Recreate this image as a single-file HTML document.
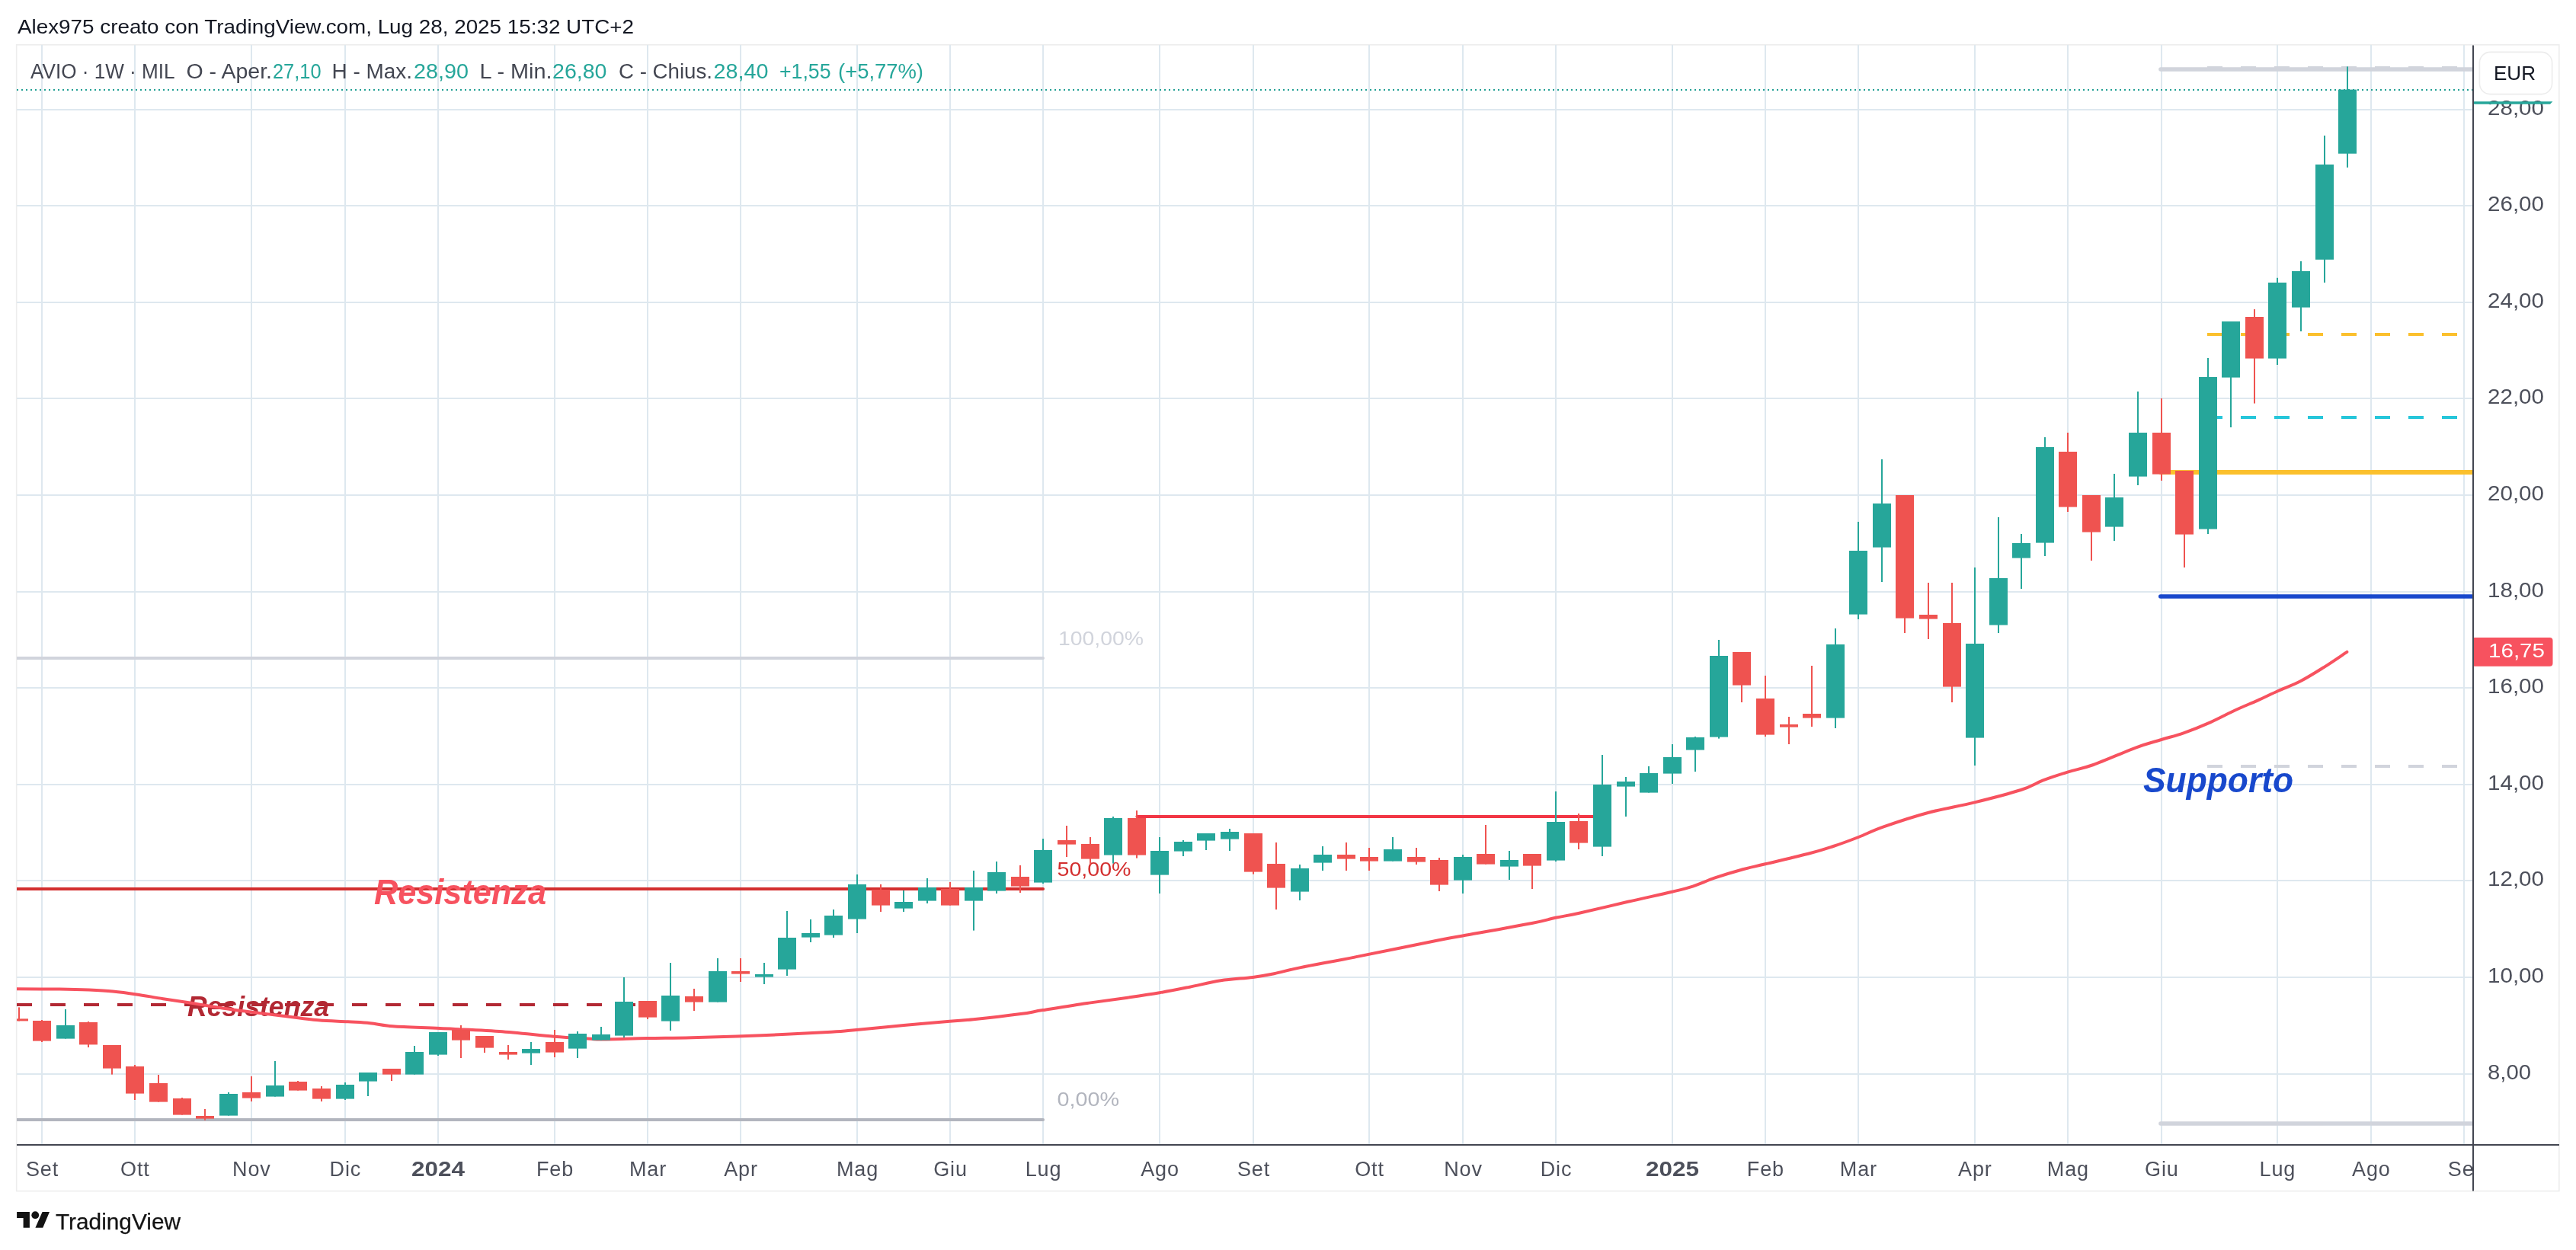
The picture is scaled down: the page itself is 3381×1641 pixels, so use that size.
<!DOCTYPE html><html><head><meta charset="utf-8"><style>html,body{margin:0;padding:0;background:#fff;width:3381px;height:1641px;overflow:hidden}svg{display:block;will-change:transform}text{font-family:"Liberation Sans",sans-serif}</style></head><body>
<svg width="3381" height="1641" viewBox="0 0 3381 1641">
<defs><clipPath id="pane"><rect x="22" y="59" width="3224" height="1443"/></clipPath><clipPath id="taxis"><rect x="22" y="1504" width="3223" height="60"/></clipPath></defs>
<rect width="3381" height="1641" fill="#ffffff"/>
<text x="23" y="43.8" font-size="26" fill="#131722" textLength="809" lengthAdjust="spacingAndGlyphs">Alex975 creato con TradingView.com, Lug 28, 2025 15:32 UTC+2</text>
<rect x="21.7" y="58.8" width="3337.1" height="1504.8" fill="none" stroke="#ededed" stroke-width="1.6"/>
<g clip-path="url(#pane)">
<rect x="54.0" y="59" width="2" height="1444" fill="#dee8ef"/>
<rect x="176.0" y="59" width="2" height="1444" fill="#dee8ef"/>
<rect x="329.0" y="59" width="2" height="1444" fill="#dee8ef"/>
<rect x="452.0" y="59" width="2" height="1444" fill="#dee8ef"/>
<rect x="574.0" y="59" width="2" height="1444" fill="#dee8ef"/>
<rect x="727.0" y="59" width="2" height="1444" fill="#dee8ef"/>
<rect x="849.0" y="59" width="2" height="1444" fill="#dee8ef"/>
<rect x="971.0" y="59" width="2" height="1444" fill="#dee8ef"/>
<rect x="1124.0" y="59" width="2" height="1444" fill="#dee8ef"/>
<rect x="1246.0" y="59" width="2" height="1444" fill="#dee8ef"/>
<rect x="1368.0" y="59" width="2" height="1444" fill="#dee8ef"/>
<rect x="1521.0" y="59" width="2" height="1444" fill="#dee8ef"/>
<rect x="1644.0" y="59" width="2" height="1444" fill="#dee8ef"/>
<rect x="1796.0" y="59" width="2" height="1444" fill="#dee8ef"/>
<rect x="1919.0" y="59" width="2" height="1444" fill="#dee8ef"/>
<rect x="2041.0" y="59" width="2" height="1444" fill="#dee8ef"/>
<rect x="2194.0" y="59" width="2" height="1444" fill="#dee8ef"/>
<rect x="2316.0" y="59" width="2" height="1444" fill="#dee8ef"/>
<rect x="2438.0" y="59" width="2" height="1444" fill="#dee8ef"/>
<rect x="2591.0" y="59" width="2" height="1444" fill="#dee8ef"/>
<rect x="2713.0" y="59" width="2" height="1444" fill="#dee8ef"/>
<rect x="2836.0" y="59" width="2" height="1444" fill="#dee8ef"/>
<rect x="2988.0" y="59" width="2" height="1444" fill="#dee8ef"/>
<rect x="3111.0" y="59" width="2" height="1444" fill="#dee8ef"/>
<rect x="3233.0" y="59" width="2" height="1444" fill="#dee8ef"/>
<rect x="22" y="1409" width="3224" height="2" fill="#dee8ef"/>
<rect x="22" y="1282" width="3224" height="2" fill="#dee8ef"/>
<rect x="22" y="1155" width="3224" height="2" fill="#dee8ef"/>
<rect x="22" y="1029" width="3224" height="2" fill="#dee8ef"/>
<rect x="22" y="902" width="3224" height="2" fill="#dee8ef"/>
<rect x="22" y="776" width="3224" height="2" fill="#dee8ef"/>
<rect x="22" y="649" width="3224" height="2" fill="#dee8ef"/>
<rect x="22" y="522" width="3224" height="2" fill="#dee8ef"/>
<rect x="22" y="396" width="3224" height="2" fill="#dee8ef"/>
<rect x="22" y="269" width="3224" height="2" fill="#dee8ef"/>
<rect x="22" y="143" width="3224" height="2" fill="#dee8ef"/>
<line x1="10.0" y1="864.0" x2="1369.0" y2="864.0" stroke="#d1d4dc" stroke-width="4.0" stroke-linecap="round"/>
<line x1="10.0" y1="1167.0" x2="1369.0" y2="1167.0" stroke="#d32f2f" stroke-width="4.0" stroke-linecap="round"/>
<line x1="10.0" y1="1470.0" x2="1369.0" y2="1470.0" stroke="#b2b5be" stroke-width="4.0" stroke-linecap="round"/>
<line x1="22.0" y1="1319.0" x2="834.0" y2="1319.0" stroke="#b22833" stroke-width="4.0" stroke-linecap="butt" stroke-dasharray="20 24"/>
<line x1="1492.4" y1="1072.0" x2="2092.0" y2="1072.0" stroke="#f23645" stroke-width="4.0" stroke-linecap="round"/>
<line x1="2836.0" y1="91.0" x2="3260.0" y2="91.0" stroke="#d1d4dc" stroke-width="5.6" stroke-linecap="round"/>
<line x1="2897.0" y1="89.0" x2="3246.0" y2="89.0" stroke="#d1d4dc" stroke-width="4.0" stroke-linecap="butt" stroke-dasharray="20 24"/>
<line x1="2897.0" y1="439.0" x2="3246.0" y2="439.0" stroke="#fbc02d" stroke-width="4.0" stroke-linecap="butt" stroke-dasharray="20 24"/>
<line x1="2897.0" y1="548.0" x2="3246.0" y2="548.0" stroke="#26c6da" stroke-width="4.0" stroke-linecap="butt" stroke-dasharray="20 24"/>
<line x1="2836.0" y1="620.0" x2="3260.0" y2="620.0" stroke="#fbc02d" stroke-width="6.0" stroke-linecap="round"/>
<line x1="2835.8" y1="783.0" x2="3260.0" y2="783.0" stroke="#1848cc" stroke-width="5.6" stroke-linecap="round"/>
<line x1="2897.0" y1="1006.0" x2="3246.0" y2="1006.0" stroke="#d1d4dc" stroke-width="4.0" stroke-linecap="butt" stroke-dasharray="20 24"/>
<line x1="2836.0" y1="1475.0" x2="3260.0" y2="1475.0" stroke="#d1d4dc" stroke-width="5.6" stroke-linecap="round"/>
<line x1="22" y1="118" x2="3246" y2="118" stroke="#22a094" stroke-width="2" stroke-dasharray="2 4"/>
<text x="491" y="1186.7" font-size="46" font-weight="bold" font-style="italic" fill="#f7525f" textLength="226" lengthAdjust="spacingAndGlyphs">Resistenza</text>
<text x="246" y="1334" font-size="36.5" font-weight="bold" font-style="italic" fill="#b22833" textLength="186" lengthAdjust="spacingAndGlyphs">Resistenza</text>
<text x="2813" y="1039.8" font-size="46" font-weight="bold" font-style="italic" fill="#1848cc" textLength="197" lengthAdjust="spacingAndGlyphs">Supporto</text>
<text x="1389" y="847" font-size="26" fill="#d1d4dc" textLength="112" lengthAdjust="spacingAndGlyphs">100,00%</text>
<text x="1387.5" y="1150" font-size="26" fill="#d32f2f" textLength="97" lengthAdjust="spacingAndGlyphs">50,00%</text>
<text x="1387.5" y="1452.3" font-size="26" fill="#b2b5be" textLength="81.5" lengthAdjust="spacingAndGlyphs">0,00%</text>
<path d="M22.0,1298.2 C31.4,1298.3 62.4,1298.4 78.2,1298.6 C94.0,1298.8 105.3,1299.1 117.0,1299.6 C128.7,1300.1 137.7,1300.5 148.1,1301.5 C158.5,1302.5 168.2,1303.8 179.2,1305.4 C190.2,1307.0 201.8,1309.3 214.1,1311.2 C226.4,1313.1 240.0,1315.0 252.9,1317.0 C265.8,1319.0 278.8,1321.5 291.7,1323.4 C304.6,1325.4 317.7,1327.0 330.6,1328.7 C343.6,1330.4 354.8,1331.7 369.4,1333.5 C383.9,1335.3 403.3,1338.0 417.9,1339.3 C432.4,1340.6 445.4,1340.6 456.7,1341.3 C468.0,1342.0 476.0,1342.2 485.8,1343.2 C495.6,1344.2 500.2,1346.1 515.5,1347.2 C530.8,1348.3 554.3,1349.0 577.6,1350.1 C600.9,1351.2 630.4,1352.2 655.3,1354.0 C680.2,1355.8 707.7,1359.2 727.1,1360.8 C746.5,1362.4 761.0,1362.9 771.7,1363.5 C782.4,1364.1 778.2,1364.7 791.1,1364.6 C804.0,1364.5 830.0,1363.5 849.4,1363.1 C868.8,1362.7 882.5,1362.9 907.6,1362.3 C932.7,1361.7 969.4,1360.5 1000.0,1359.3 C1030.6,1358.0 1070.5,1356.0 1091.2,1354.8 C1111.9,1353.6 1108.4,1353.4 1124.2,1351.9 C1140.0,1350.5 1165.9,1347.9 1186.3,1346.1 C1206.7,1344.2 1231.3,1342.1 1246.5,1340.8 C1261.7,1339.5 1262.1,1339.9 1277.6,1338.3 C1293.1,1336.7 1324.5,1333.1 1339.7,1331.1 C1354.9,1329.1 1354.2,1328.4 1368.8,1326.1 C1383.3,1323.8 1408.5,1319.7 1427.0,1317.0 C1445.5,1314.3 1464.2,1312.0 1480.0,1309.7 C1495.8,1307.4 1508.3,1305.6 1521.9,1303.3 C1535.5,1301.0 1548.1,1298.4 1561.5,1295.7 C1574.9,1293.0 1588.5,1289.4 1602.3,1287.3 C1616.1,1285.2 1632.5,1284.4 1644.2,1282.9 C1655.9,1281.4 1661.7,1280.3 1672.2,1278.2 C1682.7,1276.1 1689.1,1273.8 1707.1,1270.1 C1725.1,1266.4 1749.8,1262.1 1780.0,1256.1 C1810.2,1250.1 1865.0,1238.9 1888.3,1234.3 C1911.6,1229.7 1899.5,1232.2 1919.9,1228.5 C1940.3,1224.8 1990.3,1216.0 2010.6,1212.0 C2030.9,1208.0 2031.2,1207.0 2041.6,1204.8 C2051.9,1202.6 2056.8,1202.3 2072.7,1198.8 C2088.5,1195.3 2116.4,1188.5 2136.7,1183.8 C2157.0,1179.1 2180.4,1174.2 2194.6,1170.8 C2208.8,1167.4 2212.4,1166.7 2221.8,1163.6 C2231.2,1160.5 2240.2,1156.1 2250.9,1152.4 C2261.6,1148.8 2274.9,1144.7 2285.9,1141.7 C2296.9,1138.7 2302.0,1137.9 2316.9,1134.3 C2331.8,1130.7 2360.3,1124.2 2375.2,1120.3 C2390.1,1116.4 2395.5,1114.5 2406.2,1111.0 C2416.9,1107.5 2428.2,1103.3 2439.2,1099.0 C2450.2,1094.7 2457.0,1090.7 2472.2,1085.4 C2487.4,1080.1 2510.5,1072.3 2530.4,1067.0 C2550.3,1061.7 2571.3,1058.4 2591.6,1053.4 C2611.9,1048.4 2637.4,1041.8 2652.4,1037.0 C2667.4,1032.2 2671.2,1028.4 2681.5,1024.4 C2691.8,1020.5 2703.5,1016.7 2714.5,1013.3 C2725.5,1009.9 2732.6,1009.3 2747.5,1004.0 C2762.4,998.7 2788.9,986.8 2803.8,981.3 C2818.7,975.8 2826.5,974.2 2836.8,971.0 C2847.2,967.8 2855.2,966.1 2865.9,962.3 C2876.6,958.5 2889.6,953.3 2900.9,948.3 C2912.2,943.3 2923.6,937.0 2933.9,932.2 C2944.2,927.4 2953.6,923.8 2963.0,919.6 C2972.4,915.4 2980.7,911.2 2990.1,907.0 C2999.5,902.8 3009.3,899.5 3019.3,894.3 C3029.3,889.1 3040.1,882.3 3050.3,875.9 C3060.5,869.5 3075.4,859.2 3080.4,855.9" fill="none" stroke="#f7525f" stroke-width="4" stroke-linecap="round" stroke-linejoin="round"/>
<rect x="24.0" y="1322.4" width="2" height="18.0" fill="#ef5350"/>
<rect x="13.0" y="1337.4" width="24" height="3.0" fill="#ef5350"/>
<rect x="54.0" y="1339.0" width="2" height="29.0" fill="#ef5350"/>
<rect x="43.0" y="1340.0" width="24" height="26.6" fill="#ef5350"/>
<rect x="85.0" y="1325.0" width="2" height="38.6" fill="#26a69a"/>
<rect x="74.0" y="1346.0" width="24" height="17.6" fill="#26a69a"/>
<rect x="115.0" y="1341.0" width="2" height="34.0" fill="#ef5350"/>
<rect x="104.0" y="1342.0" width="24" height="29.4" fill="#ef5350"/>
<rect x="146.0" y="1372.0" width="2" height="38.6" fill="#ef5350"/>
<rect x="135.0" y="1372.0" width="24" height="30.6" fill="#ef5350"/>
<rect x="176.0" y="1398.0" width="2" height="46.0" fill="#ef5350"/>
<rect x="165.0" y="1400.0" width="24" height="35.6" fill="#ef5350"/>
<rect x="207.0" y="1411.0" width="2" height="35.6" fill="#ef5350"/>
<rect x="196.0" y="1422.0" width="24" height="24.6" fill="#ef5350"/>
<rect x="238.0" y="1441.0" width="2" height="22.6" fill="#ef5350"/>
<rect x="227.0" y="1442.0" width="24" height="21.6" fill="#ef5350"/>
<rect x="268.0" y="1456.0" width="2" height="14.6" fill="#ef5350"/>
<rect x="257.0" y="1465.0" width="24" height="3.6" fill="#ef5350"/>
<rect x="299.0" y="1434.0" width="2" height="30.6" fill="#26a69a"/>
<rect x="288.0" y="1436.0" width="24" height="28.6" fill="#26a69a"/>
<rect x="329.0" y="1413.0" width="2" height="33.0" fill="#ef5350"/>
<rect x="318.0" y="1434.0" width="24" height="7.6" fill="#ef5350"/>
<rect x="360.0" y="1393.0" width="2" height="46.6" fill="#26a69a"/>
<rect x="349.0" y="1425.0" width="24" height="14.6" fill="#26a69a"/>
<rect x="390.0" y="1419.0" width="2" height="12.6" fill="#ef5350"/>
<rect x="379.0" y="1420.0" width="24" height="11.6" fill="#ef5350"/>
<rect x="421.0" y="1426.0" width="2" height="20.0" fill="#ef5350"/>
<rect x="410.0" y="1429.0" width="24" height="13.6" fill="#ef5350"/>
<rect x="452.0" y="1421.0" width="2" height="23.0" fill="#26a69a"/>
<rect x="441.0" y="1424.0" width="24" height="18.6" fill="#26a69a"/>
<rect x="482.0" y="1408.0" width="2" height="31.0" fill="#26a69a"/>
<rect x="471.0" y="1408.0" width="24" height="11.6" fill="#26a69a"/>
<rect x="513.0" y="1403.0" width="2" height="16.0" fill="#ef5350"/>
<rect x="502.0" y="1403.0" width="24" height="7.6" fill="#ef5350"/>
<rect x="543.0" y="1373.0" width="2" height="37.6" fill="#26a69a"/>
<rect x="532.0" y="1381.0" width="24" height="29.6" fill="#26a69a"/>
<rect x="574.0" y="1355.0" width="2" height="31.0" fill="#26a69a"/>
<rect x="563.0" y="1355.0" width="24" height="29.6" fill="#26a69a"/>
<rect x="604.0" y="1346.0" width="2" height="43.0" fill="#ef5350"/>
<rect x="593.0" y="1352.0" width="24" height="13.6" fill="#ef5350"/>
<rect x="635.0" y="1360.0" width="2" height="22.0" fill="#ef5350"/>
<rect x="624.0" y="1360.0" width="24" height="15.6" fill="#ef5350"/>
<rect x="666.0" y="1372.0" width="2" height="19.0" fill="#ef5350"/>
<rect x="655.0" y="1381.0" width="24" height="3.6" fill="#ef5350"/>
<rect x="696.0" y="1368.0" width="2" height="30.0" fill="#26a69a"/>
<rect x="685.0" y="1377.0" width="24" height="5.6" fill="#26a69a"/>
<rect x="727.0" y="1352.0" width="2" height="36.0" fill="#ef5350"/>
<rect x="716.0" y="1368.0" width="24" height="13.6" fill="#ef5350"/>
<rect x="757.0" y="1354.0" width="2" height="35.0" fill="#26a69a"/>
<rect x="746.0" y="1357.0" width="24" height="19.6" fill="#26a69a"/>
<rect x="788.0" y="1348.0" width="2" height="17.6" fill="#26a69a"/>
<rect x="777.0" y="1358.0" width="24" height="7.6" fill="#26a69a"/>
<rect x="818.0" y="1283.0" width="2" height="79.0" fill="#26a69a"/>
<rect x="807.0" y="1315.0" width="24" height="44.6" fill="#26a69a"/>
<rect x="849.0" y="1314.0" width="2" height="24.0" fill="#ef5350"/>
<rect x="838.0" y="1314.0" width="24" height="21.6" fill="#ef5350"/>
<rect x="879.0" y="1264.0" width="2" height="89.0" fill="#26a69a"/>
<rect x="868.0" y="1307.0" width="24" height="33.6" fill="#26a69a"/>
<rect x="910.0" y="1298.0" width="2" height="29.0" fill="#ef5350"/>
<rect x="899.0" y="1308.0" width="24" height="7.6" fill="#ef5350"/>
<rect x="941.0" y="1258.0" width="2" height="57.6" fill="#26a69a"/>
<rect x="930.0" y="1275.0" width="24" height="40.6" fill="#26a69a"/>
<rect x="971.0" y="1258.0" width="2" height="31.0" fill="#ef5350"/>
<rect x="960.0" y="1275.0" width="24" height="3.6" fill="#ef5350"/>
<rect x="1002.0" y="1264.0" width="2" height="28.0" fill="#26a69a"/>
<rect x="991.0" y="1279.0" width="24" height="3.6" fill="#26a69a"/>
<rect x="1032.0" y="1196.0" width="2" height="85.0" fill="#26a69a"/>
<rect x="1021.0" y="1231.0" width="24" height="41.6" fill="#26a69a"/>
<rect x="1063.0" y="1207.0" width="2" height="30.0" fill="#26a69a"/>
<rect x="1052.0" y="1225.0" width="24" height="5.6" fill="#26a69a"/>
<rect x="1093.0" y="1194.0" width="2" height="37.0" fill="#26a69a"/>
<rect x="1082.0" y="1202.0" width="24" height="25.6" fill="#26a69a"/>
<rect x="1124.0" y="1148.0" width="2" height="77.0" fill="#26a69a"/>
<rect x="1113.0" y="1161.0" width="24" height="45.6" fill="#26a69a"/>
<rect x="1155.0" y="1161.0" width="2" height="36.0" fill="#ef5350"/>
<rect x="1144.0" y="1168.0" width="24" height="20.6" fill="#ef5350"/>
<rect x="1185.0" y="1169.0" width="2" height="28.0" fill="#26a69a"/>
<rect x="1174.0" y="1184.0" width="24" height="8.6" fill="#26a69a"/>
<rect x="1216.0" y="1153.0" width="2" height="33.0" fill="#26a69a"/>
<rect x="1205.0" y="1165.0" width="24" height="17.6" fill="#26a69a"/>
<rect x="1246.0" y="1158.0" width="2" height="30.6" fill="#ef5350"/>
<rect x="1235.0" y="1167.0" width="24" height="21.6" fill="#ef5350"/>
<rect x="1277.0" y="1143.0" width="2" height="78.6" fill="#26a69a"/>
<rect x="1266.0" y="1165.0" width="24" height="17.6" fill="#26a69a"/>
<rect x="1307.0" y="1131.0" width="2" height="42.0" fill="#26a69a"/>
<rect x="1296.0" y="1145.0" width="24" height="24.6" fill="#26a69a"/>
<rect x="1338.0" y="1136.0" width="2" height="36.0" fill="#ef5350"/>
<rect x="1327.0" y="1151.0" width="24" height="12.6" fill="#ef5350"/>
<rect x="1368.0" y="1101.0" width="2" height="59.0" fill="#26a69a"/>
<rect x="1357.0" y="1116.0" width="24" height="42.6" fill="#26a69a"/>
<rect x="1399.0" y="1084.0" width="2" height="41.0" fill="#ef5350"/>
<rect x="1388.0" y="1103.0" width="24" height="5.6" fill="#ef5350"/>
<rect x="1430.0" y="1099.0" width="2" height="35.7" fill="#ef5350"/>
<rect x="1419.0" y="1108.0" width="24" height="19.6" fill="#ef5350"/>
<rect x="1460.0" y="1072.0" width="2" height="61.6" fill="#26a69a"/>
<rect x="1449.0" y="1074.0" width="24" height="48.6" fill="#26a69a"/>
<rect x="1491.0" y="1064.0" width="2" height="62.6" fill="#ef5350"/>
<rect x="1480.0" y="1074.0" width="24" height="48.6" fill="#ef5350"/>
<rect x="1521.0" y="1099.0" width="2" height="74.0" fill="#26a69a"/>
<rect x="1510.0" y="1117.0" width="24" height="31.6" fill="#26a69a"/>
<rect x="1552.0" y="1103.0" width="2" height="21.0" fill="#26a69a"/>
<rect x="1541.0" y="1105.0" width="24" height="12.6" fill="#26a69a"/>
<rect x="1582.0" y="1094.0" width="2" height="22.0" fill="#26a69a"/>
<rect x="1571.0" y="1094.0" width="24" height="9.6" fill="#26a69a"/>
<rect x="1613.0" y="1088.0" width="2" height="29.0" fill="#26a69a"/>
<rect x="1602.0" y="1092.0" width="24" height="9.6" fill="#26a69a"/>
<rect x="1644.0" y="1094.0" width="2" height="53.6" fill="#ef5350"/>
<rect x="1633.0" y="1094.0" width="24" height="50.6" fill="#ef5350"/>
<rect x="1674.0" y="1106.0" width="2" height="88.0" fill="#ef5350"/>
<rect x="1663.0" y="1134.0" width="24" height="31.6" fill="#ef5350"/>
<rect x="1705.0" y="1135.0" width="2" height="47.0" fill="#26a69a"/>
<rect x="1694.0" y="1140.0" width="24" height="30.6" fill="#26a69a"/>
<rect x="1735.0" y="1111.0" width="2" height="32.0" fill="#26a69a"/>
<rect x="1724.0" y="1122.0" width="24" height="10.6" fill="#26a69a"/>
<rect x="1766.0" y="1106.0" width="2" height="37.0" fill="#ef5350"/>
<rect x="1755.0" y="1122.0" width="24" height="5.6" fill="#ef5350"/>
<rect x="1796.0" y="1113.0" width="2" height="30.0" fill="#ef5350"/>
<rect x="1785.0" y="1125.0" width="24" height="5.6" fill="#ef5350"/>
<rect x="1827.0" y="1099.0" width="2" height="31.6" fill="#26a69a"/>
<rect x="1816.0" y="1115.0" width="24" height="15.6" fill="#26a69a"/>
<rect x="1858.0" y="1113.0" width="2" height="22.0" fill="#ef5350"/>
<rect x="1847.0" y="1125.0" width="24" height="6.6" fill="#ef5350"/>
<rect x="1888.0" y="1126.0" width="2" height="44.0" fill="#ef5350"/>
<rect x="1877.0" y="1129.0" width="24" height="32.6" fill="#ef5350"/>
<rect x="1919.0" y="1122.0" width="2" height="51.0" fill="#26a69a"/>
<rect x="1908.0" y="1125.0" width="24" height="30.6" fill="#26a69a"/>
<rect x="1949.0" y="1083.0" width="2" height="51.6" fill="#ef5350"/>
<rect x="1938.0" y="1121.0" width="24" height="13.6" fill="#ef5350"/>
<rect x="1980.0" y="1117.0" width="2" height="38.0" fill="#26a69a"/>
<rect x="1969.0" y="1129.0" width="24" height="8.6" fill="#26a69a"/>
<rect x="2010.0" y="1121.0" width="2" height="46.0" fill="#ef5350"/>
<rect x="1999.0" y="1121.0" width="24" height="15.6" fill="#ef5350"/>
<rect x="2041.0" y="1039.0" width="2" height="92.0" fill="#26a69a"/>
<rect x="2030.0" y="1079.0" width="24" height="50.6" fill="#26a69a"/>
<rect x="2071.0" y="1068.0" width="2" height="47.0" fill="#ef5350"/>
<rect x="2060.0" y="1078.0" width="24" height="28.6" fill="#ef5350"/>
<rect x="2102.0" y="991.0" width="2" height="133.0" fill="#26a69a"/>
<rect x="2091.0" y="1030.0" width="24" height="81.6" fill="#26a69a"/>
<rect x="2133.0" y="1020.0" width="2" height="52.0" fill="#26a69a"/>
<rect x="2122.0" y="1026.0" width="24" height="6.6" fill="#26a69a"/>
<rect x="2163.0" y="1006.0" width="2" height="34.6" fill="#26a69a"/>
<rect x="2152.0" y="1015.0" width="24" height="25.6" fill="#26a69a"/>
<rect x="2194.0" y="977.0" width="2" height="52.0" fill="#26a69a"/>
<rect x="2183.0" y="994.0" width="24" height="21.6" fill="#26a69a"/>
<rect x="2224.0" y="967.0" width="2" height="46.0" fill="#26a69a"/>
<rect x="2213.0" y="968.0" width="24" height="16.6" fill="#26a69a"/>
<rect x="2255.0" y="840.0" width="2" height="129.6" fill="#26a69a"/>
<rect x="2244.0" y="861.0" width="24" height="106.6" fill="#26a69a"/>
<rect x="2285.0" y="856.0" width="2" height="66.0" fill="#ef5350"/>
<rect x="2274.0" y="856.0" width="24" height="43.6" fill="#ef5350"/>
<rect x="2316.0" y="887.0" width="2" height="80.0" fill="#ef5350"/>
<rect x="2305.0" y="917.0" width="24" height="47.6" fill="#ef5350"/>
<rect x="2347.0" y="941.0" width="2" height="36.0" fill="#ef5350"/>
<rect x="2336.0" y="951.0" width="24" height="3.6" fill="#ef5350"/>
<rect x="2377.0" y="874.0" width="2" height="80.0" fill="#ef5350"/>
<rect x="2366.0" y="937.0" width="24" height="5.6" fill="#ef5350"/>
<rect x="2408.0" y="825.0" width="2" height="131.0" fill="#26a69a"/>
<rect x="2397.0" y="846.0" width="24" height="96.6" fill="#26a69a"/>
<rect x="2438.0" y="685.0" width="2" height="128.0" fill="#26a69a"/>
<rect x="2427.0" y="723.0" width="24" height="83.6" fill="#26a69a"/>
<rect x="2469.0" y="603.0" width="2" height="161.0" fill="#26a69a"/>
<rect x="2458.0" y="661.0" width="24" height="57.6" fill="#26a69a"/>
<rect x="2499.0" y="650.0" width="2" height="181.0" fill="#ef5350"/>
<rect x="2488.0" y="650.0" width="24" height="161.6" fill="#ef5350"/>
<rect x="2530.0" y="765.0" width="2" height="74.0" fill="#ef5350"/>
<rect x="2519.0" y="807.0" width="24" height="5.6" fill="#ef5350"/>
<rect x="2561.0" y="765.0" width="2" height="157.0" fill="#ef5350"/>
<rect x="2550.0" y="818.0" width="24" height="83.6" fill="#ef5350"/>
<rect x="2591.0" y="745.0" width="2" height="260.0" fill="#26a69a"/>
<rect x="2580.0" y="845.0" width="24" height="123.6" fill="#26a69a"/>
<rect x="2622.0" y="679.0" width="2" height="152.0" fill="#26a69a"/>
<rect x="2611.0" y="759.0" width="24" height="61.6" fill="#26a69a"/>
<rect x="2652.0" y="701.0" width="2" height="72.0" fill="#26a69a"/>
<rect x="2641.0" y="713.0" width="24" height="19.6" fill="#26a69a"/>
<rect x="2683.0" y="574.0" width="2" height="156.0" fill="#26a69a"/>
<rect x="2672.0" y="587.0" width="24" height="125.6" fill="#26a69a"/>
<rect x="2713.0" y="568.0" width="2" height="104.0" fill="#ef5350"/>
<rect x="2702.0" y="593.0" width="24" height="72.6" fill="#ef5350"/>
<rect x="2744.0" y="650.0" width="2" height="86.0" fill="#ef5350"/>
<rect x="2733.0" y="650.0" width="24" height="48.6" fill="#ef5350"/>
<rect x="2774.0" y="622.0" width="2" height="88.0" fill="#26a69a"/>
<rect x="2763.0" y="653.0" width="24" height="38.6" fill="#26a69a"/>
<rect x="2805.0" y="514.0" width="2" height="123.0" fill="#26a69a"/>
<rect x="2794.0" y="568.0" width="24" height="57.6" fill="#26a69a"/>
<rect x="2836.0" y="523.0" width="2" height="108.0" fill="#ef5350"/>
<rect x="2825.0" y="568.0" width="24" height="54.6" fill="#ef5350"/>
<rect x="2866.0" y="618.0" width="2" height="127.0" fill="#ef5350"/>
<rect x="2855.0" y="618.0" width="24" height="83.6" fill="#ef5350"/>
<rect x="2897.0" y="470.0" width="2" height="231.0" fill="#26a69a"/>
<rect x="2886.0" y="495.0" width="24" height="199.6" fill="#26a69a"/>
<rect x="2927.0" y="422.0" width="2" height="139.0" fill="#26a69a"/>
<rect x="2916.0" y="422.0" width="24" height="73.6" fill="#26a69a"/>
<rect x="2958.0" y="406.0" width="2" height="123.6" fill="#ef5350"/>
<rect x="2947.0" y="416.0" width="24" height="54.6" fill="#ef5350"/>
<rect x="2988.0" y="364.8" width="2" height="114.2" fill="#26a69a"/>
<rect x="2977.0" y="371.0" width="24" height="99.6" fill="#26a69a"/>
<rect x="3019.0" y="343.0" width="2" height="92.0" fill="#26a69a"/>
<rect x="3008.0" y="356.0" width="24" height="47.6" fill="#26a69a"/>
<rect x="3050.0" y="178.0" width="2" height="193.0" fill="#26a69a"/>
<rect x="3039.0" y="216.0" width="24" height="124.8" fill="#26a69a"/>
<rect x="3080.0" y="87.4" width="2" height="132.5" fill="#26a69a"/>
<rect x="3069.0" y="117.6" width="24" height="84.1" fill="#26a69a"/>
<text x="40.0" y="103.0" font-size="27" fill="#434651" textLength="189.5" lengthAdjust="spacingAndGlyphs">AVIO · 1W · MIL</text>
<text x="244.5" y="103.0" font-size="27" fill="#434651" textLength="112.5" lengthAdjust="spacingAndGlyphs">O - Aper.</text>
<text x="358.0" y="103.0" font-size="27" fill="#26a69a" textLength="63.5" lengthAdjust="spacingAndGlyphs">27,10</text>
<text x="435.5" y="103.0" font-size="27" fill="#434651" textLength="105.5" lengthAdjust="spacingAndGlyphs">H - Max.</text>
<text x="543.0" y="103.0" font-size="27" fill="#26a69a" textLength="72.0" lengthAdjust="spacingAndGlyphs">28,90</text>
<text x="629.5" y="103.0" font-size="27" fill="#434651" textLength="95.0" lengthAdjust="spacingAndGlyphs">L - Min.</text>
<text x="725.0" y="103.0" font-size="27" fill="#26a69a" textLength="71.5" lengthAdjust="spacingAndGlyphs">26,80</text>
<text x="812.0" y="103.0" font-size="27" fill="#434651" textLength="123.0" lengthAdjust="spacingAndGlyphs">C - Chius.</text>
<text x="936.5" y="103.0" font-size="27" fill="#26a69a" textLength="72.0" lengthAdjust="spacingAndGlyphs">28,40</text>
<text x="1023.0" y="103.0" font-size="27" fill="#26a69a" textLength="67.5" lengthAdjust="spacingAndGlyphs">+1,55</text>
<text x="1100.0" y="103.0" font-size="27" fill="#26a69a" textLength="112.0" lengthAdjust="spacingAndGlyphs">(+5,77%)</text>
</g>
<rect x="3245" y="59.5" width="2" height="1504" fill="#434651"/>
<rect x="22" y="1502" width="3337" height="2" fill="#434651"/>
<g clip-path="url(#taxis)">
<text x="55.5" y="1544" font-size="27" fill="#4d505b" text-anchor="middle" letter-spacing="0.9">Set</text>
<text x="177.4" y="1544" font-size="27" fill="#4d505b" text-anchor="middle" letter-spacing="0.9">Ott</text>
<text x="330.4" y="1544" font-size="27" fill="#4d505b" text-anchor="middle" letter-spacing="0.9">Nov</text>
<text x="453.4" y="1544" font-size="27" fill="#4d505b" text-anchor="middle" letter-spacing="0.9">Dic</text>
<text x="575.0" y="1544" font-size="27" font-weight="bold" fill="#4d505b" text-anchor="middle" textLength="70" lengthAdjust="spacingAndGlyphs">2024</text>
<text x="728.5" y="1544" font-size="27" fill="#4d505b" text-anchor="middle" letter-spacing="0.9">Feb</text>
<text x="850.5" y="1544" font-size="27" fill="#4d505b" text-anchor="middle" letter-spacing="0.9">Mar</text>
<text x="972.5" y="1544" font-size="27" fill="#4d505b" text-anchor="middle" letter-spacing="0.9">Apr</text>
<text x="1125.5" y="1544" font-size="27" fill="#4d505b" text-anchor="middle" letter-spacing="0.9">Mag</text>
<text x="1247.5" y="1544" font-size="27" fill="#4d505b" text-anchor="middle" letter-spacing="0.9">Giu</text>
<text x="1369.5" y="1544" font-size="27" fill="#4d505b" text-anchor="middle" letter-spacing="0.9">Lug</text>
<text x="1522.5" y="1544" font-size="27" fill="#4d505b" text-anchor="middle" letter-spacing="0.9">Ago</text>
<text x="1645.5" y="1544" font-size="27" fill="#4d505b" text-anchor="middle" letter-spacing="0.9">Set</text>
<text x="1797.5" y="1544" font-size="27" fill="#4d505b" text-anchor="middle" letter-spacing="0.9">Ott</text>
<text x="1920.5" y="1544" font-size="27" fill="#4d505b" text-anchor="middle" letter-spacing="0.9">Nov</text>
<text x="2042.5" y="1544" font-size="27" fill="#4d505b" text-anchor="middle" letter-spacing="0.9">Dic</text>
<text x="2195.0" y="1544" font-size="27" font-weight="bold" fill="#4d505b" text-anchor="middle" textLength="70" lengthAdjust="spacingAndGlyphs">2025</text>
<text x="2317.4" y="1544" font-size="27" fill="#4d505b" text-anchor="middle" letter-spacing="0.9">Feb</text>
<text x="2439.4" y="1544" font-size="27" fill="#4d505b" text-anchor="middle" letter-spacing="0.9">Mar</text>
<text x="2592.4" y="1544" font-size="27" fill="#4d505b" text-anchor="middle" letter-spacing="0.9">Apr</text>
<text x="2714.4" y="1544" font-size="27" fill="#4d505b" text-anchor="middle" letter-spacing="0.9">Mag</text>
<text x="2837.4" y="1544" font-size="27" fill="#4d505b" text-anchor="middle" letter-spacing="0.9">Giu</text>
<text x="2989.4" y="1544" font-size="27" fill="#4d505b" text-anchor="middle" letter-spacing="0.9">Lug</text>
<text x="3112.4" y="1544" font-size="27" fill="#4d505b" text-anchor="middle" letter-spacing="0.9">Ago</text>
<text x="3234.4" y="1544" font-size="27" fill="#4d505b" text-anchor="middle" letter-spacing="0.9">Set</text>
</g>
<text x="3265" y="1416.5" font-size="27" fill="#4d505b" textLength="57" lengthAdjust="spacingAndGlyphs">8,00</text>
<text x="3265" y="1289.9" font-size="27" fill="#4d505b" textLength="74" lengthAdjust="spacingAndGlyphs">10,00</text>
<text x="3265" y="1163.3" font-size="27" fill="#4d505b" textLength="74" lengthAdjust="spacingAndGlyphs">12,00</text>
<text x="3265" y="1036.7" font-size="27" fill="#4d505b" textLength="74" lengthAdjust="spacingAndGlyphs">14,00</text>
<text x="3265" y="910.1" font-size="27" fill="#4d505b" textLength="74" lengthAdjust="spacingAndGlyphs">16,00</text>
<text x="3265" y="783.5" font-size="27" fill="#4d505b" textLength="74" lengthAdjust="spacingAndGlyphs">18,00</text>
<text x="3265" y="656.9" font-size="27" fill="#4d505b" textLength="74" lengthAdjust="spacingAndGlyphs">20,00</text>
<text x="3265" y="530.3" font-size="27" fill="#4d505b" textLength="74" lengthAdjust="spacingAndGlyphs">22,00</text>
<text x="3265" y="403.7" font-size="27" fill="#4d505b" textLength="74" lengthAdjust="spacingAndGlyphs">24,00</text>
<text x="3265" y="277.1" font-size="27" fill="#4d505b" textLength="74" lengthAdjust="spacingAndGlyphs">26,00</text>
<text x="3265" y="150.5" font-size="27" fill="#4d505b" textLength="74" lengthAdjust="spacingAndGlyphs">28,00</text>
<path d="M3247,133.2 H3350.4 L3347,136.8 H3247 Z" fill="#26a69a"/>
<rect x="3254.4" y="68.4" width="95.2" height="55.2" rx="14" ry="14" fill="#ffffff" stroke="#ececec" stroke-width="1.6"/>
<text x="3273" y="105" font-size="26" fill="#131722" textLength="55" lengthAdjust="spacingAndGlyphs">EUR</text>
<path d="M3247,837 H3346.5 Q3350.5,837 3350.5,841 V870.7 Q3350.5,874.7 3346.5,874.7 H3247 Z" fill="#f7525f"/>
<text x="3266" y="863.2" font-size="26" fill="#ffffff" textLength="74" lengthAdjust="spacingAndGlyphs">16,75</text>
<path d="M22.1,1590.9 H38.9 V1611.7 H30.6 V1598.9 H22.1 Z" fill="#131313"/>
<circle cx="46.25" cy="1595.2" r="4.9" fill="#131313"/>
<path d="M55.6,1590.9 H65 L56.25,1611.7 H46.4 Z" fill="#131313"/>
<text x="73" y="1613.75" font-size="29" fill="#131313" stroke="#131313" stroke-width="0.25" textLength="164" lengthAdjust="spacingAndGlyphs">TradingView</text>
</svg></body></html>
